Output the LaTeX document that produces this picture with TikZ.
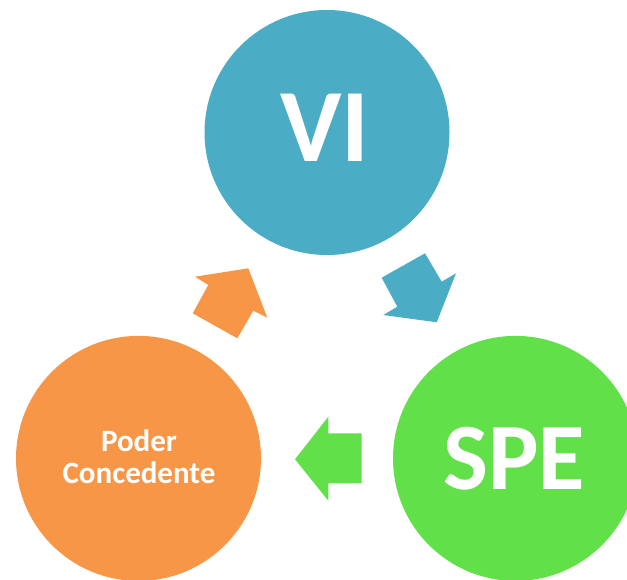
\documentclass[tikz,border=0pt]{standalone}
\usepackage{fontspec}
\setmainfont{Carlito}
\definecolor{viblue}{HTML}{4BACC6}
\definecolor{spegreen}{HTML}{62E04A}
\definecolor{podorange}{HTML}{F79646}
\begin{document}
\begin{tikzpicture}[x=1pt,y=-1pt,
  disc/.style={circle,inner sep=0pt,minimum size=245pt},
  bigtxt/.style={text=white,font=\fontsize{104}{104}\selectfont\bfseries,anchor=base,inner sep=0pt},
  smalltxt/.style={text=white,font=\fontsize{31}{32}\selectfont\bfseries,align=center,inner sep=0pt}]
\useasboundingbox (0,0) rectangle (627,580);
\node[disc,fill=viblue] (vi) at (327,132.5) {};
\node[disc,fill=spegreen] (spe) at (515.5,458.4) {};
\node[disc,fill=podorange] (pc) at (138.5,458.4) {};
\node[bigtxt] (vitext) at (325,161.7) {VI};
\node[bigtxt,font=\fontsize{95}{95}\selectfont\bfseries] (spetext) at (514,489) {SPE};
\node[smalltxt,anchor=base] (pc1) at (139,451.7) {Poder};
\node[smalltxt,anchor=base] (pc2) at (139,483.3) {Concedente};
% block arrows
\fill[viblue] (381.7,277.7) -- (425,253.3) -- (441.7,281.7) -- (456,273.3) -- (436.7,322.3) -- (383.3,315) -- (397.3,306.7) -- cycle;
\fill[spegreen] (295,459.3) -- (328.3,416.7) -- (328.3,433.3) -- (361.7,433.3) -- (361.7,483.3) -- (328.3,483.3) -- (328.3,500.7) -- cycle;
\fill[podorange] (195,276.7) -- (248.3,268.3) -- (267.3,317.7) -- (253.3,310.7) -- (237.3,338.3) -- (192.7,313.3) -- (208.3,285) -- cycle;
\end{tikzpicture}
\end{document}
